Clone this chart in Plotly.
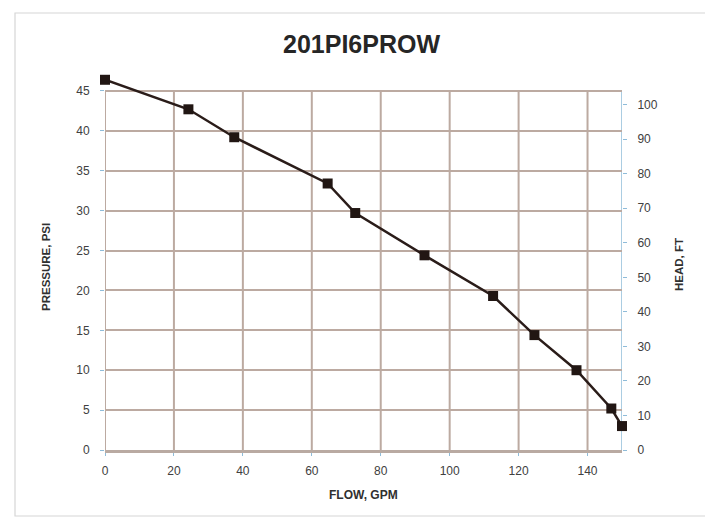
import plotly.graph_objects as go

# ---- data ----
flow_gpm = [0, 24.2, 37.5, 64.6, 72.6, 92.7, 112.6, 124.6, 136.8, 146.9, 150.0]
pressure_psi = [46.4, 42.7, 39.2, 33.4, 29.7, 24.4, 19.3, 14.4, 10.0, 5.2, 3.0]
PSI_TO_FT = 2.31
head_ft = [p * PSI_TO_FT for p in pressure_psi]

x_ticks = [0, 20, 40, 60, 80, 100, 120, 140]
x_ticktext = ["0", "20", "40", "60", "80", "100", "120", "140"]
psi_ticks = [0, 5, 10, 15, 20, 25, 30, 35, 40, 45]
ft_ticks = [0, 10, 20, 30, 40, 50, 60, 70, 80, 90, 100]

title_text = "201PI6PROW"
x_title = "FLOW, GPM"
y_title = "PRESSURE, PSI"
y2_title = "HEAD, FT"

# ---- layout geometry (page body has an 8px margin) ----
OFF = 8
W, H = 713 - OFF, 519 - OFF
L, T = 105 - OFF, 71 - OFF
R = 91
B = 519 - 450
PW, PH = W - L - R, H - T - B
X_MAX = 150
Y_MAX = 47.5      # room above the 45 line for the first point
Y_TOP = 45        # top of the gridded area

def px_x(px):
    # px in reference-window pixels
    return (px - OFF - L) / PW

def px_y(py):
    return (H - B - (py - OFF)) / PH

GRID = "#bcaaa1"
AXIS_BLUE = "#8fbcd9"
TXT = "#404040"
FONT = "Liberation Sans, Arial, sans-serif"

fig = go.Figure()
fig.add_trace(go.Scatter(
    x=flow_gpm, y=pressure_psi, mode="lines+markers",
    line=dict(color="#2a1c19", width=2.5),
    marker=dict(symbol="square", size=10, color="#211613"),
    cliponaxis=False, showlegend=False, name="Pressure",
))
fig.add_trace(go.Scatter(
    x=flow_gpm, y=head_ft, yaxis="y2", mode="lines",
    line=dict(width=0), opacity=0, hoverinfo="skip", showlegend=False,
))

shapes = []
for t in x_ticks:
    shapes.append(dict(type="line", xref="x", yref="y", x0=t, x1=t, y0=0, y1=Y_TOP,
                       line=dict(color=GRID, width=2), layer="below"))
shapes.append(dict(type="line", xref="x", yref="y", x0=X_MAX, x1=X_MAX, y0=0, y1=Y_TOP,
                   line=dict(color=AXIS_BLUE, width=1.5), layer="below"))
# chart frame
shapes.append(dict(type="rect", xref="paper", yref="paper",
                   x0=px_x(15), x1=px_x(707), y0=px_y(516), y1=px_y(13),
                   line=dict(color="#d6d6d6", width=1.2), layer="below"))

annotations = [
    dict(text="<b>%s</b>" % title_text, xref="paper", yref="paper",
         x=px_x(361), y=px_y(44), xanchor="center", yanchor="middle", showarrow=False,
         font=dict(family=FONT, size=25, color="#262626")),
    dict(text="<b>%s</b>" % x_title, xref="paper", yref="paper",
         x=px_x(363), y=px_y(495), xanchor="center", yanchor="middle", showarrow=False,
         font=dict(family=FONT, size=12, color="#303030")),
    dict(text="<b>%s</b>" % y_title, xref="paper", yref="paper",
         x=px_x(46), y=px_y(267), xanchor="center", yanchor="middle",
         showarrow=False, textangle=-90,
         font=dict(family=FONT, size=11.5, color="#303030")),
    dict(text="<b>%s</b>" % y2_title, xref="paper", yref="paper",
         x=px_x(679), y=px_y(265), xanchor="center", yanchor="middle",
         showarrow=False, textangle=-90,
         font=dict(family=FONT, size=11.5, color="#303030")),
]

fig.update_layout(
    width=W, height=H,
    margin=dict(l=L, r=R, t=T, b=B),
    paper_bgcolor="white", plot_bgcolor="white",
    showlegend=False,
    shapes=shapes, annotations=annotations,
    xaxis=dict(
        range=[0, X_MAX], tickvals=x_ticks, ticktext=x_ticktext,
        showgrid=False, zeroline=False,
        showline=True, linecolor="#b9aaa2", linewidth=3,
        ticks="outside", ticklen=3, tickcolor=AXIS_BLUE,
        ticklabelstandoff=5,
        tickfont=dict(family=FONT, size=12, color=TXT),
    ),
    yaxis=dict(
        range=[0, Y_MAX], tickvals=psi_ticks,
        showgrid=True, gridcolor=GRID, gridwidth=2, zeroline=False,
        showline=False,
        ticks="outside", ticklen=4, tickcolor=AXIS_BLUE,
        ticklabelstandoff=8,
        tickfont=dict(family=FONT, size=12, color=TXT),
    ),
    yaxis2=dict(
        range=[0, Y_MAX * PSI_TO_FT], tickvals=ft_ticks,
        overlaying="y", side="right", anchor="x",
        showgrid=False, zeroline=False, showline=False,
        ticks="outside", ticklen=4, tickcolor=AXIS_BLUE,
        ticklabelstandoff=8,
        tickfont=dict(family=FONT, size=12, color=TXT),
    ),
)

fig.write_html("out.html")
